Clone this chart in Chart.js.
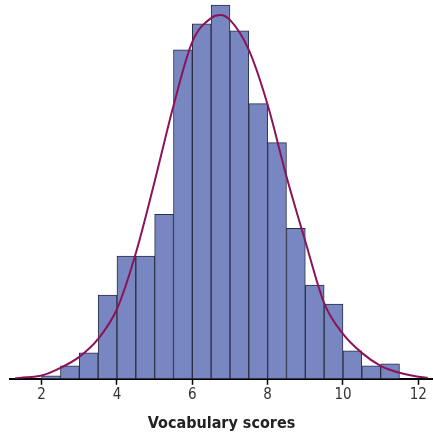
<!DOCTYPE html>
<html>
<head>
<meta charset="utf-8">
<script src="https://cdn.jsdelivr.net/npm/chart.js@4.4.1/dist/chart.umd.min.js"></script>
<style>
  html, body { margin: 0; padding: 0; background: #fff; }
  #wrap { width: 433px; height: 433px; position: relative; }
</style>
</head>
<body>
<div id="wrap"><canvas id="histChart"></canvas></div>
<script>
// histogram bins (centres, width 0.5) and bar heights
const binCenters = [2.25, 2.75, 3.25, 3.75, 4.25, 4.75, 5.25, 5.75, 6.25, 6.75, 7.25, 7.75, 8.25, 8.75, 9.25, 9.75, 10.25, 10.75, 11.25];
const binCounts = [3, 13, 26, 84, 123, 123, 165, 330, 356, 375, 349, 276, 237, 151, 94, 75, 28, 13, 15];

// fitted normal curve
const curveX = [1.3, 1.6, 2.0, 2.5, 3.0, 3.5, 4.0, 4.5, 5.0, 5.5, 6.0, 6.5, 6.75, 7.0, 7.5, 8.0, 8.5, 9.0, 9.5, 10.0, 10.5, 11.0, 11.5, 12.0, 12.25];
const curveY = [0.5, 1.5, 3.3, 11, 22, 40, 70, 126, 198, 274, 338, 362, 365, 360, 330, 275, 203, 138, 76, 45, 26, 13, 6, 2, 1];

const xTicks = [2, 4, 6, 8, 10, 12];

const fontFamily = "'Liberation Sans Narrow', 'DejaVu Sans Condensed', sans-serif";

const ctx = document.getElementById('histChart').getContext('2d');

new Chart(ctx, {
    type: 'bar',
    data: {
        datasets: [{
            type: 'line',
            label: 'Normal curve',
            data: curveX.map((x, i) => ({ x: x, y: curveY[i] })),
            borderColor: '#8b1458',
            borderWidth: 2,
            pointRadius: 0,
            fill: false,
            cubicInterpolationMode: 'monotone',
            order: 0
        }, {
            label: 'Vocabulary scores',
            data: binCenters.map((x, i) => ({ x: x, y: binCounts[i] })),
            backgroundColor: '#7886c2',
            borderColor: '#2a2f42',
            borderWidth: 1,
            borderSkipped: false,
            barPercentage: 1,
            categoryPercentage: 1,
            order: 1
        }]
    },
    options: {
        responsive: true,
        maintainAspectRatio: false,
        animation: false,
        layout: {
            padding: { left: 10, right: 0, top: 0, bottom: 0 }
        },
        scales: {
            x: {
                type: 'linear',
                min: 1.16,
                max: 12.39,
                offset: false,
                afterBuildTicks: (axis) => {
                    axis.ticks = xTicks.map(v => ({ value: v }));
                },
                grid: {
                    offset: false,
                    drawOnChartArea: false,
                    drawTicks: true,
                    tickLength: 6,
                    tickWidth: 1.5,
                    tickColor: '#000'
                },
                border: {
                    display: true,
                    color: '#000',
                    width: 2
                },
                ticks: {
                    color: '#333',
                    padding: 1,
                    maxRotation: 0,
                    font: { family: fontFamily, size: 15 }
                },
                title: {
                    display: true,
                    text: 'Vocabulary scores',
                    color: '#222',
                    padding: { top: 9, bottom: 0 },
                    font: { family: fontFamily, size: 16, weight: 'bold' }
                }
            },
            y: {
                display: false,
                min: 0,
                max: 380
            }
        },
        plugins: {
            legend: { display: false },
            tooltip: { enabled: false }
        }
    }
});
</script>
</body>
</html>
